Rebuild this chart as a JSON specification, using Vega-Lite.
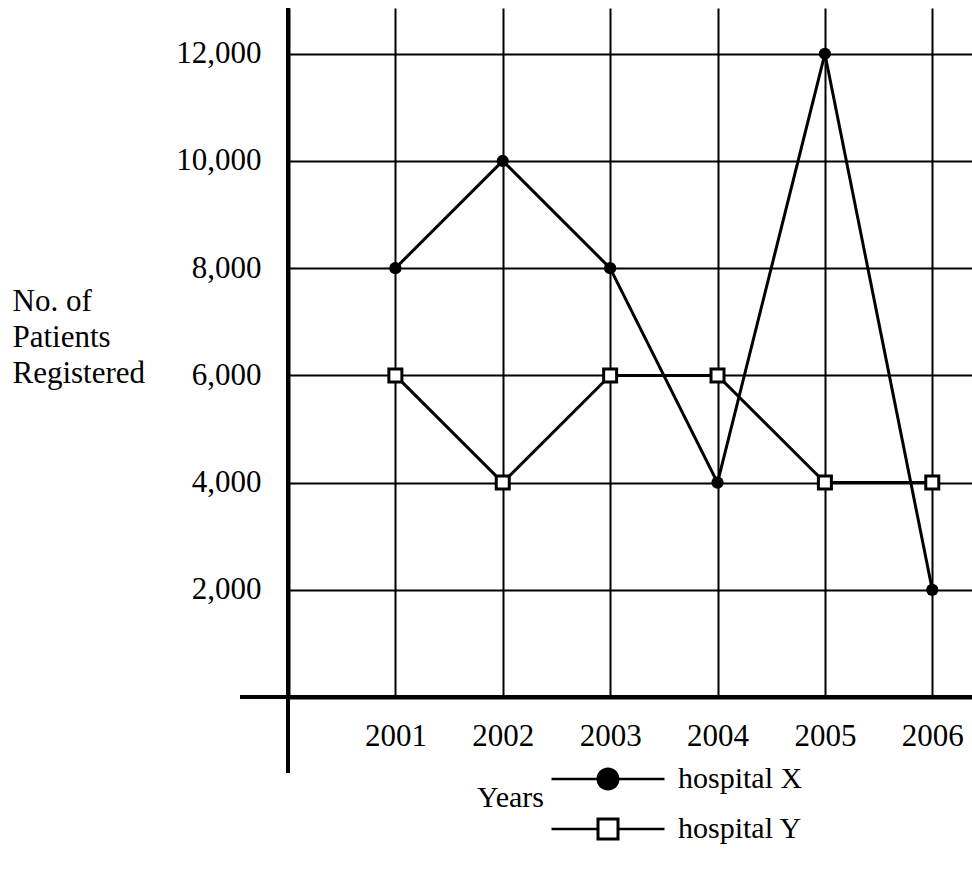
{
  "$schema": "https://vega.github.io/schema/vega-lite/v6.json",
  "width": 684,
  "height": 689,
  "autosize": "none",
  "padding": {"left": 288, "top": 8, "right": 0, "bottom": 176},
  "background": "white",
  "config": {"view": {"stroke": null}, "font": "Liberation Serif, Times New Roman, DejaVu Serif, serif"},
  "data": {
    "values": [
      {"year": 2001, "patients": 8000, "hospital": "hospital X"},
      {"year": 2002, "patients": 10000, "hospital": "hospital X"},
      {"year": 2003, "patients": 8000, "hospital": "hospital X"},
      {"year": 2004, "patients": 4000, "hospital": "hospital X"},
      {"year": 2005, "patients": 12000, "hospital": "hospital X"},
      {"year": 2006, "patients": 2000, "hospital": "hospital X"},
      {"year": 2001, "patients": 6000, "hospital": "hospital Y"},
      {"year": 2002, "patients": 4000, "hospital": "hospital Y"},
      {"year": 2003, "patients": 6000, "hospital": "hospital Y"},
      {"year": 2004, "patients": 6000, "hospital": "hospital Y"},
      {"year": 2005, "patients": 4000, "hospital": "hospital Y"},
      {"year": 2006, "patients": 4000, "hospital": "hospital Y"}
    ]
  },
  "encoding": {
    "x": {
      "field": "year",
      "type": "quantitative",
      "scale": {"domain": [2000, 2006.37], "nice": false, "zero": false},
      "axis": {
        "values": [2001, 2002, 2003, 2004, 2005, 2006],
        "labelExpr": "format(datum.value, 'd')",
        "domain": true,
        "domainColor": "black",
        "domainWidth": 4,
        "ticks": false,
        "grid": true,
        "gridColor": "black",
        "gridOpacity": 1,
        "gridWidth": 2,
        "labelFont": "Liberation Serif, Times New Roman, DejaVu Serif, serif",
        "labelFontSize": 31,
        "labelColor": "black",
        "labelBaseline": "top",
        "labelPadding": 24,
        "labelFlush": false,
        "labelOverlap": false,
        "title": "Years",
        "titleFont": "Liberation Serif, Times New Roman, DejaVu Serif, serif",
        "titleFontSize": 30,
        "titleFontWeight": "normal",
        "titleColor": "black",
        "titleX": 222,
        "titleY": 100,
        "titleAlign": "center",
        "titleBaseline": "middle"
      }
    },
    "y": {
      "field": "patients",
      "type": "quantitative",
      "scale": {"domain": [0, 12854], "nice": false, "zero": false},
      "axis": {
        "values": [2000, 4000, 6000, 8000, 10000, 12000],
        "labelExpr": "format(datum.value, ',')",
        "domain": true,
        "domainColor": "black",
        "domainWidth": 4,
        "ticks": false,
        "grid": true,
        "gridColor": "black",
        "gridOpacity": 1,
        "gridWidth": 2,
        "labelFont": "Liberation Serif, Times New Roman, DejaVu Serif, serif",
        "labelFontSize": 31,
        "labelColor": "black",
        "labelBaseline": "middle",
        "labelPadding": 27,
        "labelFlush": false,
        "labelOverlap": false,
        "title": ["No. of", "Patients", "Registered"],
        "titleFont": "Liberation Serif, Times New Roman, DejaVu Serif, serif",
        "titleFontSize": 31,
        "titleFontWeight": "normal",
        "titleColor": "black",
        "titleAngle": 0,
        "titleAlign": "left",
        "titleBaseline": "alphabetic",
        "titleLineHeight": 36,
        "titleX": -276,
        "titleY": 302
      }
    }
  },
  "layer": [
    {
      "mark": {"type": "line", "color": "black", "strokeWidth": 3},
      "encoding": {"detail": {"field": "hospital", "type": "nominal"}}
    },
    {
      "data": {"values": [{"line": "vertical axis", "year": 2000, "from": -1418, "to": 12854}]},
      "mark": {"type": "rule", "color": "black", "strokeWidth": 4},
      "encoding": {
        "x": {"field": "year", "type": "quantitative"},
        "y": {"field": "from", "type": "quantitative"},
        "y2": {"field": "to"}
      }
    },
    {
      "data": {"values": [{"line": "horizontal axis", "patients": 0, "from": 1999.553, "to": 2006.37}]},
      "mark": {"type": "rule", "color": "black", "strokeWidth": 4},
      "encoding": {
        "y": {"field": "patients", "type": "quantitative"},
        "x": {"field": "from", "type": "quantitative"},
        "x2": {"field": "to"}
      }
    },
    {
      "transform": [{"filter": "datum.hospital === 'hospital X'"}],
      "mark": {"type": "point", "shape": "circle", "filled": true, "color": "black", "size": 150, "opacity": 1}
    },
    {
      "transform": [{"filter": "datum.hospital === 'hospital Y'"}],
      "mark": {"type": "point", "shape": "square", "filled": true, "fill": "white", "stroke": "black", "strokeWidth": 3, "size": 169, "opacity": 1}
    },
    {
      "mark": {"type": "point", "filled": true, "color": "black", "opacity": 0},
      "encoding": {
        "shape": {
          "field": "hospital",
          "type": "nominal",
          "scale": {
            "domain": ["hospital X", "hospital Y"],
            "range": [
              "M-5.65,-0.125H5.65V0.125H-5.65Z M-1.15,0A1.15,1.15 0 1,1 1.15,0A1.15,1.15 0 1,1 -1.15,0Z",
              "M-5.65,-0.125H-1.15V0.125H-5.65Z M1.15,-0.125H5.65V0.125H1.15Z M-1.15,-1.15H1.15V1.15H-1.15Z M-0.85,-0.85V0.85H0.85V-0.85Z"
            ]
          },
          "legend": {
            "title": null,
            "orient": "none",
            "direction": "vertical",
            "legendX": 305,
            "legendY": 756,
            "padding": 0,
            "symbolSize": 400,
            "symbolOpacity": 1,
            "symbolStrokeWidth": 0,
            "symbolFillColor": "black",
            "labelFont": "Liberation Serif, Times New Roman, DejaVu Serif, serif",
            "labelFontSize": 30,
            "labelColor": "black",
            "labelOffset": 55,
            "labelLimit": 400,
            "rowPadding": 20
          }
        }
      }
    }
  ]
}
